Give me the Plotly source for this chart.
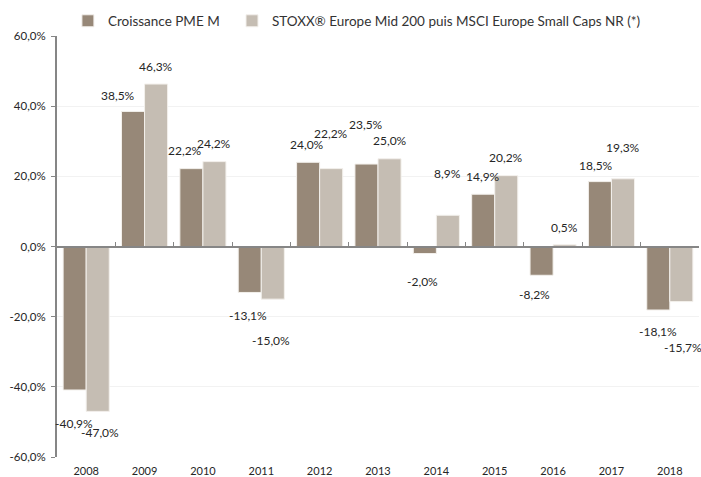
import plotly.graph_objects as go

years = ["2008", "2009", "2010", "2011", "2012", "2013", "2014", "2015", "2016", "2017", "2018"]
pme = [-40.9, 38.5, 22.2, -13.1, 24.0, 23.5, -2.0, 14.9, -8.2, 18.5, -18.1]
stoxx = [-47.0, 46.3, 24.2, -15.0, 22.2, 25.0, 8.9, 20.2, 0.5, 19.3, -15.7]
y_ticks = [60, 40, 20, 0, -20, -40, -60]

# label placement (value-axis units)
pme_label_y = [-50.5, 42.9, 27.4, -19.7, 29.1, 34.8, -10.0, 20.0, -13.7, 23.1, -24.2]
stoxx_label_y = [-53.1, 51.2, 29.3, -26.9, 32.2, 30.3, 20.9, 25.3, 5.5, 28.2, -28.8]
pme_label_dx = [-1, -15, -6, -2, -1, -1, -2, 0, -7, -4, 0]
stoxx_label_dx = [2, 0, 0, -2, 0, 0, 0, 0, 0, 0, 2]

DARK = "#978878"
LIGHT = "#c5bdb3"
FONT = "Lato"
TXT = "#262626"


def fmt(v):
    return f"{v:.1f}".replace(".", ",") + "%"


fig = go.Figure()
fig.add_trace(go.Bar(name="Croissance PME M", x=years, y=pme, legend="legend",
                     marker=dict(color=DARK, line=dict(color="#f3f0ec", width=1)),
                     hoverinfo="skip"))
fig.add_trace(go.Bar(name="STOXX® Europe Mid 200 puis MSCI Europe Small Caps NR (*)",
                     x=years, y=stoxx, legend="legend2",
                     marker=dict(color=LIGHT, line=dict(color="#f3f0ec", width=1)),
                     hoverinfo="skip"))

# helper axis drawn at zero with tick marks between categories
n = len(years)
fig.add_trace(go.Scatter(x=[-0.5, n - 0.5], y=[0, 0], xaxis="x2", mode="lines",
                         line=dict(width=0, color="rgba(0,0,0,0)"),
                         showlegend=False, hoverinfo="skip"))

annotations = []
for i, yr in enumerate(years):
    annotations.append(dict(x=i, y=pme_label_y[i], xref="x", yref="y", text=fmt(pme[i]),
                            showarrow=False, xshift=-11.5 + pme_label_dx[i],
                            font=dict(family=FONT, size=12, color=TXT)))
    annotations.append(dict(x=i, y=stoxx_label_y[i], xref="x", yref="y", text=fmt(stoxx[i]),
                            showarrow=False, xshift=11.5 + stoxx_label_dx[i],
                            font=dict(family=FONT, size=12, color=TXT)))

leg_common = dict(orientation="h", xanchor="left", y=1.0356, yanchor="middle",
                  font=dict(family=FONT, size=13.5, color="#333333"),
                  itemwidth=30, bgcolor="rgba(0,0,0,0)")

fig.update_layout(
    width=701, height=477,
    margin=dict(l=57, r=2, t=36, b=20, autoexpand=False),
    paper_bgcolor="white", plot_bgcolor="white",
    barmode="group", bargap=0.21, bargroupgap=0,
    font=dict(family=FONT, size=12, color=TXT),
    legend=dict(x=0.017, **leg_common),
    legend2=dict(x=0.2726, **leg_common),
    xaxis=dict(type="category", showline=False, ticks="", showgrid=False, zeroline=False,
               ticklabelstandoff=6,
               tickfont=dict(family=FONT, size=11, color=TXT), range=[-0.5, n - 0.5]),
    xaxis2=dict(overlaying="x", anchor="free", position=0.5, side="bottom", type="linear",
                range=[-0.5, n - 0.5], tickvals=[i - 0.5 for i in range(n + 1)],
                showticklabels=False, ticks="inside", ticklen=4, tickwidth=1,
                tickcolor="#868686", showline=True, linecolor="#868686", linewidth=2,
                showgrid=False, zeroline=False),
    yaxis=dict(range=[-60, 60], tickvals=y_ticks, ticktext=[fmt(v) for v in y_ticks],
               showline=True, linecolor="#868686", linewidth=2, ticks="outside", ticklen=4,
               tickcolor="#868686", showgrid=True, gridcolor="#f2f2f2", gridwidth=1,
               zeroline=False, ticklabelstandoff=3,
               tickfont=dict(family=FONT, size=11.5, color=TXT)),
    annotations=annotations,
)

fig.write_html("out.html", config={"displayModeBar": False},
               post_script="document.body.style.margin='0';")
